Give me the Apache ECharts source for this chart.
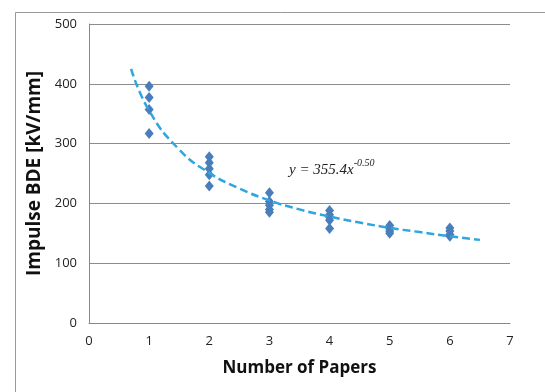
<!DOCTYPE html>
<html>
<head>
<meta charset="utf-8">
<script src="https://cdn.jsdelivr.net/npm/echarts@6/dist/echarts.min.js"></script>
<style>html,body{margin:0;padding:0;background:#fff}#c{width:545px;height:392px}</style>
</head>
<body>
<div id="c"></div>
<script>
// Measured data points: [number of papers, impulse BDE kV/mm]
var papers1 = [1, 1, 1, 1];
var bde1 = [396, 377, 357, 317];
var papers2 = [2, 2, 2, 2, 2];
var bde2 = [278, 268, 258, 248, 229];
var papers3 = [3, 3, 3, 3, 3];
var bde3 = [218, 203, 197, 190, 185];
var papers4 = [4, 4, 4, 4, 4];
var bde4 = [188, 181, 177, 172, 158];
var papers5 = [5, 5, 5, 5];
var bde5 = [163, 158, 154, 150];
var papers6 = [6, 6, 6, 6];
var bde6 = [159, 154, 148, 145];
// Trendline values
var trendX = [0.7, 1, 1.5, 2, 2.5, 3, 3.5, 4, 4.5, 5, 5.5, 6, 6.5];
var trendY = [425, 355, 290, 251, 225, 205, 190, 178, 168, 159, 152, 145, 139];
var xTicks = [0, 1, 2, 3, 4, 5, 6, 7];
var yTicks = [0, 100, 200, 300, 400, 500];

function pairs(xs, ys){ return xs.map(function(x,i){return [x, ys[i]];}); }
var scatterData = [].concat(
  pairs(papers1, bde1), pairs(papers2, bde2), pairs(papers3, bde3),
  pairs(papers4, bde4), pairs(papers5, bde5), pairs(papers6, bde6));
var trendData = pairs(trendX, trendY);

var chart = echarts.init(document.getElementById('c'));
chart.setOption({
  animation: false,
  backgroundColor: '#fff',
  grid: { left: 89, top: 24, right: 35, bottom: 69 },
  xAxis: {
    type: 'value', min: 0, max: 7, interval: 1,
    name: 'Number of Papers', nameLocation: 'middle', nameGap: 37,
    nameTextStyle: { fontFamily: 'Open Sans', fontWeight: 'bold', fontSize: 17, color: '#111' },
    axisLine: { show: true, lineStyle: { color: '#888' } },
    axisTick: { show: false },
    splitLine: { show: false },
    axisLabel: { fontFamily: 'Open Sans', fontSize: 13, color: '#222', margin: 12 }
  },
  yAxis: {
    type: 'value', min: 0, max: 500, interval: 100,
    name: 'Impulse BDE [kV/mm]', nameLocation: 'middle', nameGap: 29,
    nameTextStyle: { fontFamily: 'Open Sans', fontWeight: 'bold', fontSize: 19, color: '#111' },
    axisLine: { show: true, lineStyle: { color: '#888' } },
    axisTick: { show: false },
    splitLine: { show: true, lineStyle: { color: '#8c8c8c', width: 1 } },
    axisLabel: { fontFamily: 'Open Sans', fontSize: 13, color: '#222', margin: 12 }
  },
  series: [
    {
      type: 'line', data: trendData, smooth: true, showSymbol: false, symbol: 'none',
      lineStyle: { color: '#2ea6df', width: 2.5, type: [8, 4] }, z: 3
    },
    {
      type: 'scatter', data: scatterData, symbol: 'diamond', symbolSize: [9, 11],
      itemStyle: { color: '#4a7ebb', opacity: 1 }, z: 2
    }
  ],
  graphic: [
    { type: 'rect', left: 13, top: 10, shape: { width: 560, height: 420 },
      style: { fill: 'none', stroke: '#999', lineWidth: 1 }, silent: true },
    { type: 'text', left: 289, top: 158,
      style: {
        text: '{m|y = 355.4x}{s|-0.50}',
        rich: {
          m: { fontFamily: 'Liberation Serif', fontStyle: 'italic', fontSize: 15, fill: '#222', verticalAlign: 'bottom', lineHeight: 20 },
          s: { fontFamily: 'Liberation Serif', fontStyle: 'italic', fontSize: 10, fill: '#222', verticalAlign: 'top', lineHeight: 20, padding: [0,0,8,0] }
        }
      } }
  ]
});
</script>
</body>
</html>
